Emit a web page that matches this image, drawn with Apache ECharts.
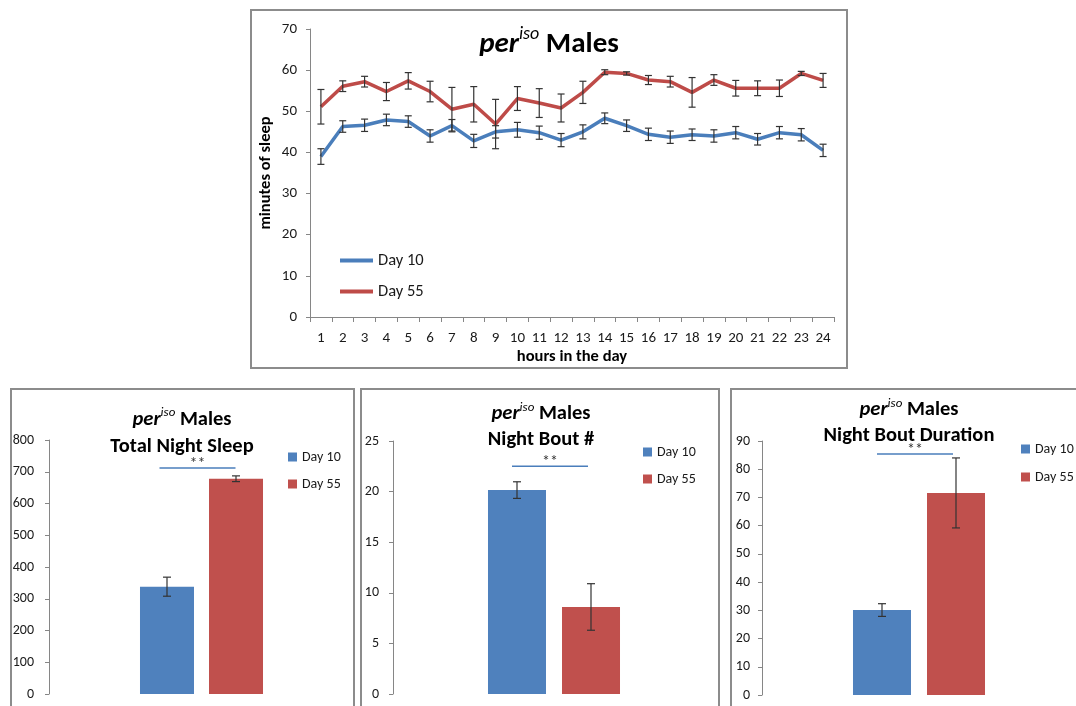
<!DOCTYPE html>
<html>
<head>
<meta charset="utf-8">
<script src="https://cdn.jsdelivr.net/npm/echarts@6/dist/echarts.min.js"></script>
<style>
  html, body { margin: 0; padding: 0; background: #fff; }
  #chart { width: 1076px; height: 706px; }
</style>
</head>
<body>
<div id="chart"></div>
<script>
// ---- Hourly sleep (minutes per hour), mean and SEM ----
const hours = ['1','2','3','4','5','6','7','8','9','10','11','12','13','14','15','16','17','18','19','20','21','22','23','24'];
const day10Hourly    = [39.0, 46.3, 46.6, 47.9, 47.5, 44.0, 46.5, 42.8, 45.0, 45.5, 44.8, 43.0, 45.0, 48.3, 46.5, 44.4, 43.7, 44.3, 44.0, 44.8, 43.2, 44.8, 44.3, 40.5];
const day10HourlyErr = [1.9, 1.4, 1.5, 1.4, 1.4, 1.5, 1.5, 1.6, 1.5, 1.8, 1.6, 1.6, 1.7, 1.3, 1.4, 1.5, 1.5, 1.4, 1.5, 1.5, 1.4, 1.5, 1.5, 1.5];
const day55Hourly    = [51.1, 56.1, 57.2, 54.8, 57.4, 54.8, 50.5, 51.7, 46.9, 53.1, 52.0, 50.8, 54.6, 59.5, 59.2, 57.6, 57.2, 54.6, 57.6, 55.6, 55.6, 55.6, 59.2, 57.5];
const day55HourlyErr = [4.2, 1.3, 1.3, 2.2, 2.0, 2.5, 5.3, 4.3, 6.0, 2.9, 3.5, 3.4, 2.7, 0.6, 0.4, 1.1, 1.3, 3.6, 1.3, 1.9, 1.8, 2.0, 0.5, 1.7];

// ---- Night summaries: [Day 10, Day 55] ----
const nightSleep       = [338, 678];
const nightSleepErr    = [30, 9];
const nightBouts       = [20.15, 8.6];
const nightBoutsErr    = [0.82, 2.3];
const nightBoutDur     = [30.1, 71.6];
const nightBoutDurErr  = [2.25, 12.4];
// level of the "**" significance bracket in each panel
const sigLevels        = [712, 22.5, 85.4];

const seriesNames = ['Day 10', 'Day 55'];
const panelTitles = ['Total Night Sleep', 'Night Bout #', 'Night Bout Duration'];

const FONT = 'Carlito, Lato, "Liberation Sans", sans-serif';
const TXT = '#1a1a1a';
const AXIS_GRAY = '#868686';
const BOX_GRAY = '#8c8c8c';
const BLUE_LINE = '#4a7ebb', RED_LINE = '#be4b48';
const BLUE_BAR = '#4f81bd', RED_BAR = '#c0504d';
const ERR_COLOR = '#333333';

// vertical error bar with caps; xOffset shifts it onto a bar of a grouped pair
function errorBars(xOffset, cap) {
  return function (params, api) {
    const x = api.value(0), y = api.value(1), e = api.value(2);
    const hi = api.coord([x, y + e]);
    const lo = api.coord([x, y - e]);
    const cx = hi[0] + xOffset;
    const st = { stroke: ERR_COLOR, lineWidth: 1.2 };
    return {
      type: 'group',
      children: [
        { type: 'line', shape: { x1: cx, y1: hi[1], x2: cx, y2: lo[1] }, style: st },
        { type: 'line', shape: { x1: cx - cap, y1: hi[1], x2: cx + cap, y2: hi[1] }, style: st },
        { type: 'line', shape: { x1: cx - cap, y1: lo[1], x2: cx + cap, y2: lo[1] }, style: st }
      ]
    };
  };
}

// significance bracket: thin blue rule with "**" above it
function sigBracket(left, right) {
  return function (params, api) {
    const p = api.coord([api.value(0), api.value(1)]);
    return {
      type: 'group',
      children: [
        { type: 'line', shape: { x1: p[0] + left, y1: p[1], x2: p[0] + right, y2: p[1] },
          style: { stroke: BLUE_LINE, lineWidth: 1.5 } },
        { type: 'text', x: p[0] + (left + right) / 2, y: p[1] - 4,
          style: { text: '**', fontFamily: FONT, fontSize: 16, fill: '#333', align: 'center', verticalAlign: 'middle' } }
      ]
    };
  };
}

// italic "per" with a raised "iso" followed by bold words
function titleRich(size, supSize, lineH) {
  return {
    i: { fontFamily: FONT, fontSize: size, fontWeight: 'bold', fontStyle: 'italic', fill: '#000', lineHeight: lineH },
    s: { fontFamily: FONT, fontSize: supSize, fontStyle: 'italic', fill: '#000', lineHeight: lineH - 0.26 * size, verticalAlign: 'top' },
    b: { fontFamily: FONT, fontSize: size, fontWeight: 'bold', fill: '#000', lineHeight: lineH }
  };
}

function legendEntry(name, color, left, top, icon, w, h, size) {
  return {
    left: left, top: top, padding: 0, orient: 'vertical',
    icon: icon, itemWidth: w, itemHeight: h, selectedMode: false,
    data: [{ name: name, itemStyle: { color: color } }],
    textStyle: { fontFamily: FONT, fontSize: size, color: TXT }
  };
}

function valueAxis(gridIndex, max, interval, margin, fontSize) {
  return {
    type: 'value', gridIndex: gridIndex, min: 0, max: max, interval: interval,
    axisLine: { show: true, lineStyle: { color: AXIS_GRAY, width: 1 } },
    axisTick: { show: true, length: 4, lineStyle: { color: AXIS_GRAY } },
    splitLine: { show: false },
    axisLabel: { fontFamily: FONT, fontSize: fontSize, color: TXT, margin: margin }
  };
}

function hiddenCategoryAxis(gridIndex) {
  return {
    type: 'category', gridIndex: gridIndex, data: ['Night'],
    axisLine: { show: false }, axisTick: { show: false }, axisLabel: { show: false }
  };
}

const panels = [
  { values: nightSleep, errs: nightSleepErr, barW: 54, gap: 15 },
  { values: nightBouts, errs: nightBoutsErr, barW: 58, gap: 16 },
  { values: nightBoutDur, errs: nightBoutDurErr, barW: 58, gap: 16 }
];

const series = [
  { name: seriesNames[0], type: 'line', xAxisIndex: 0, yAxisIndex: 0, data: day10Hourly,
    showSymbol: false, symbol: 'none', lineStyle: { color: BLUE_LINE, width: 3.5 }, itemStyle: { color: BLUE_LINE }, z: 3 },
  { name: seriesNames[1], type: 'line', xAxisIndex: 0, yAxisIndex: 0, data: day55Hourly,
    showSymbol: false, symbol: 'none', lineStyle: { color: RED_LINE, width: 3.5 }, itemStyle: { color: RED_LINE }, z: 3 },
  { type: 'custom', xAxisIndex: 0, yAxisIndex: 0, silent: true, z: 5,
    renderItem: errorBars(0, 3.5), data: day10Hourly.map((v, i) => [i, v, day10HourlyErr[i]]) },
  { type: 'custom', xAxisIndex: 0, yAxisIndex: 0, silent: true, z: 5,
    renderItem: errorBars(0, 3.5), data: day55Hourly.map((v, i) => [i, v, day55HourlyErr[i]]) }
];

panels.forEach((p, k) => {
  const ax = k + 1;
  const colors = [BLUE_BAR, RED_BAR];
  const shift = (p.barW + p.gap) / 2;
  seriesNames.forEach((nm, j) => {
    series.push({
      name: nm, type: 'bar', xAxisIndex: ax, yAxisIndex: ax,
      barWidth: p.barW, barGap: (p.gap / p.barW * 100).toFixed(1) + '%',
      itemStyle: { color: colors[j] }, data: [p.values[j]]
    });
  });
  seriesNames.forEach((nm, j) => {
    series.push({
      type: 'custom', xAxisIndex: ax, yAxisIndex: ax, silent: true, z: 5,
      renderItem: errorBars(j === 0 ? -shift : shift, 4),
      data: [[0, p.values[j], p.errs[j]]]
    });
  });
  series.push({
    type: 'custom', xAxisIndex: ax, yAxisIndex: ax, silent: true, z: 5,
    renderItem: sigBracket(-42, 34), data: [[0, sigLevels[k]]]
  });
});

const axisNameStyle = { fontFamily: FONT, fontSize: 16.5, fontWeight: 'bold', color: '#000' };

const option = {
  backgroundColor: '#ffffff',
  animation: false,
  grid: [
    { left: 310, top: 29, width: 524, height: 288 },
    { left: 49, top: 440, width: 305, height: 254 },
    { left: 393, top: 441, width: 322, height: 253 },
    { left: 762, top: 441, width: 322, height: 254 }
  ],
  xAxis: [
    {
      type: 'category', gridIndex: 0, data: hours, boundaryGap: true,
      axisLine: { lineStyle: { color: AXIS_GRAY } },
      axisTick: { show: true, length: 5, lineStyle: { color: AXIS_GRAY } },
      axisLabel: { fontFamily: FONT, fontSize: 15, color: TXT, margin: 14, interval: 0 },
      name: 'hours in the day', nameLocation: 'middle', nameGap: 31,
      nameTextStyle: axisNameStyle
    },
    hiddenCategoryAxis(1), hiddenCategoryAxis(2), hiddenCategoryAxis(3)
  ],
  yAxis: [
    Object.assign(valueAxis(0, 70, 10, 13, 15), {
      name: 'minutes of sleep', nameLocation: 'middle', nameGap: 36, nameRotate: 90,
      nameTextStyle: axisNameStyle
    }),
    valueAxis(1, 800, 100, 15, 14),
    valueAxis(2, 25, 5, 14, 14),
    valueAxis(3, 90, 10, 12, 14)
  ],
  legend: [
    legendEntry('Day 10', BLUE_LINE, 340, 252, 'rect', 33, 4, 16.5),
    legendEntry('Day 55', RED_LINE, 340, 283, 'rect', 33, 4, 16.5),
    legendEntry('Day 10', BLUE_BAR, 288, 450, 'rect', 9, 9, 14),
    legendEntry('Day 55', RED_BAR, 288, 477, 'rect', 9, 9, 14),
    legendEntry('Day 10', BLUE_BAR, 643, 445, 'rect', 9, 9, 14),
    legendEntry('Day 55', RED_BAR, 643, 472, 'rect', 9, 9, 14),
    legendEntry('Day 10', BLUE_BAR, 1021, 442, 'rect', 9, 9, 14),
    legendEntry('Day 55', RED_BAR, 1021, 470, 'rect', 9, 9, 14)
  ],
  graphic: [
    // panel frames
    { type: 'rect', shape: { x: 251, y: 10, width: 596, height: 358 }, style: { fill: null, stroke: BOX_GRAY, lineWidth: 2 }, silent: true, z: -1 },
    { type: 'rect', shape: { x: 11, y: 389, width: 343, height: 340 }, style: { fill: null, stroke: BOX_GRAY, lineWidth: 2 }, silent: true, z: -1 },
    { type: 'rect', shape: { x: 361, y: 389, width: 358, height: 340 }, style: { fill: null, stroke: BOX_GRAY, lineWidth: 2 }, silent: true, z: -1 },
    { type: 'rect', shape: { x: 731, y: 389, width: 360, height: 340 }, style: { fill: null, stroke: BOX_GRAY, lineWidth: 2 }, silent: true, z: -1 },
    // titles
    { type: 'text', x: 549, y: 45, silent: true,
      style: { text: '{i|per}{s|iso}{b| Males}', rich: titleRich(29, 18, 40), align: 'center', verticalAlign: 'middle' } },
    { type: 'text', x: 182, y: 433, silent: true,
      style: { text: '{i|per}{s|iso}{b| Males}\n{b|' + panelTitles[0] + '}', rich: titleRich(20.5, 13, 27), align: 'center', verticalAlign: 'middle' } },
    { type: 'text', x: 541, y: 427, silent: true,
      style: { text: '{i|per}{s|iso}{b| Males}\n{b|' + panelTitles[1] + '}', rich: titleRich(20.5, 13, 26), align: 'center', verticalAlign: 'middle' } },
    { type: 'text', x: 909, y: 423, silent: true,
      style: { text: '{i|per}{s|iso}{b| Males}\n{b|' + panelTitles[2] + '}', rich: titleRich(20.5, 13, 26), align: 'center', verticalAlign: 'middle' } }
  ],
  series: series
};

const chart = echarts.init(document.getElementById('chart'));
chart.setOption(option);
</script>
</body>
</html>
